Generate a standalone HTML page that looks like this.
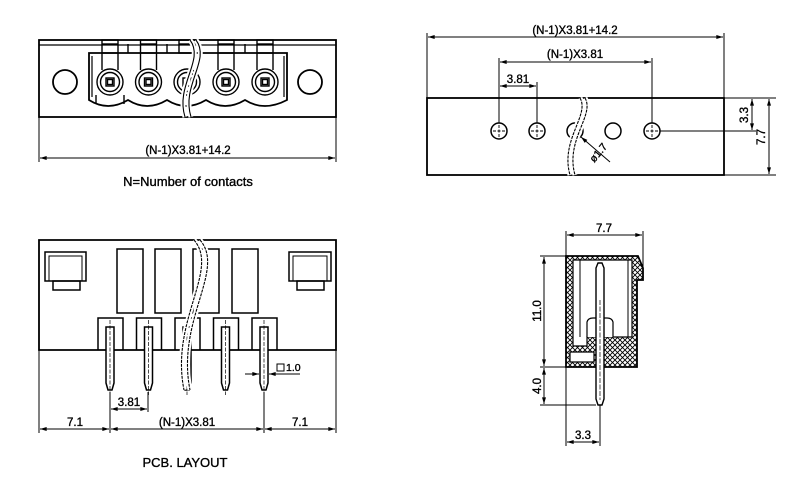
<!DOCTYPE html>
<html><head><style>
html,body{margin:0;padding:0;background:#fff;}
svg{display:block;}
text{font-family:"Liberation Sans",sans-serif;font-size:11.5px;fill:#000;stroke:#000;stroke-width:0.35;}
</style></head><body>
<svg width="800" height="499" viewBox="0 0 800 499" xmlns="http://www.w3.org/2000/svg">
<defs>
<marker id="a" viewBox="0 0 10 6" refX="10" refY="3" markerWidth="8" markerHeight="4" orient="auto-start-reverse"><path d="M0,0L10,3L0,6z" fill="#000"/></marker>
<pattern id="h" width="5" height="5" patternUnits="userSpaceOnUse"><path d="M0,0L5,5M5,0L0,5" stroke="#000" stroke-width="0.9"/></pattern>
</defs>
<g fill="none" stroke="#000" stroke-width="1.8">
<!-- TOP LEFT -->
<rect x="39" y="40" width="297" height="77"/>
<line x1="39" y1="45" x2="336" y2="45" stroke-width="1.2"/>
<circle cx="65" cy="82" r="12"/>
<circle cx="310" cy="82" r="12"/>
<path d="M89,53 L89,100 Q108,112 128,100 Q147,112 167,100 Q186,112 206,100 Q225,112 245,100 Q264,112 287,100 L287,53 Z"/>
<path d="M92,56 L92,97 M284,56 L284,97" stroke-width="1.2"/>
<g stroke-width="1.4">
<g><rect x="102" y="40" width="16" height="13"/><line x1="102" y1="44" x2="118" y2="44"/><line x1="102" y1="53" x2="102" y2="70"/><line x1="118" y1="53" x2="118" y2="70"/><circle cx="110" cy="82" r="13"/><circle cx="110" cy="82" r="9.5"/><rect x="106" y="78" width="8" height="8"/><rect x="107.5" y="79.5" width="5" height="5"/><line x1="96" y1="95" x2="96" y2="104"/><line x1="124" y1="95" x2="124" y2="104"/></g>
<g transform="translate(38.5,0)"><rect x="102" y="40" width="16" height="13"/><line x1="102" y1="44" x2="118" y2="44"/><line x1="102" y1="53" x2="102" y2="70"/><line x1="118" y1="53" x2="118" y2="70"/><circle cx="110" cy="82" r="13"/><circle cx="110" cy="82" r="9.5"/><rect x="106" y="78" width="8" height="8"/><rect x="107.5" y="79.5" width="5" height="5"/></g>
<g transform="translate(77,0)"><rect x="102" y="40" width="16" height="13"/><line x1="102" y1="44" x2="118" y2="44"/><circle cx="110" cy="82" r="13"/><circle cx="110" cy="82" r="9.5"/><rect x="106" y="78" width="8" height="8"/></g>
<g transform="translate(116,0)"><rect x="102" y="40" width="16" height="13"/><line x1="102" y1="44" x2="118" y2="44"/><line x1="102" y1="53" x2="102" y2="70"/><line x1="118" y1="53" x2="118" y2="70"/><circle cx="110" cy="82" r="13"/><circle cx="110" cy="82" r="9.5"/><rect x="106" y="78" width="8" height="8"/><rect x="107.5" y="79.5" width="5" height="5"/></g>
<g transform="translate(155,0)"><rect x="102" y="40" width="16" height="13"/><line x1="102" y1="44" x2="118" y2="44"/><line x1="102" y1="53" x2="102" y2="70"/><line x1="118" y1="53" x2="118" y2="70"/><circle cx="110" cy="82" r="13"/><circle cx="110" cy="82" r="9.5"/><rect x="106" y="78" width="8" height="8"/><rect x="107.5" y="79.5" width="5" height="5"/></g>
<line x1="128" y1="53" x2="128" y2="44"/><line x1="167" y1="53" x2="167" y2="44"/><line x1="245" y1="53" x2="245" y2="44"/>
</g>
<path d="M190,40 C205,60 175,85 185,117 M196,40 C211,60 181,85 191,117" stroke="#fff" stroke-width="5"/>
<path d="M190,40 C205,60 175,85 185,117 M196,40 C211,60 181,85 191,117" stroke-width="1.1"/>
<line x1="39" y1="117" x2="39" y2="162" stroke-width="1"/><line x1="336" y1="117" x2="336" y2="162" stroke-width="1"/>
<line x1="40" y1="158" x2="335" y2="158" stroke-width="1" marker-start="url(#a)" marker-end="url(#a)"/>

<!-- TOP RIGHT -->
<rect x="427" y="98" width="297" height="77"/>
<g stroke-width="1.5">
<circle cx="499" cy="131" r="8"/><circle cx="537" cy="131" r="8"/><circle cx="575" cy="131" r="8"/><circle cx="613" cy="131" r="8"/><circle cx="652" cy="131" r="8"/>
</g>
<g stroke-width="0.9" stroke-dasharray="3,1.5">
<path d="M493,131h12M499,125v12M531,131h12M537,125v12M646,131h12M652,125v12"/>
</g>
<path d="M580,98 C590,115 560,140 570,175 M585,98 C595,115 565,140 575,175" stroke="#fff" stroke-width="5"/>
<path d="M580,98 C590,115 560,140 570,175 M585,98 C595,115 565,140 575,175" stroke-width="1.1" stroke-dasharray="3,1"/>
<g stroke-width="1">
<line x1="427" y1="98" x2="427" y2="33"/><line x1="724" y1="98" x2="724" y2="33"/>
<line x1="428" y1="37" x2="723" y2="37" marker-start="url(#a)" marker-end="url(#a)"/>
<line x1="499" y1="123" x2="499" y2="58"/><line x1="652" y1="123" x2="652" y2="58"/>
<line x1="500" y1="62" x2="651" y2="62" marker-start="url(#a)" marker-end="url(#a)"/>
<line x1="537" y1="123" x2="537" y2="82"/>
<line x1="500" y1="86" x2="536" y2="86" marker-start="url(#a)" marker-end="url(#a)"/>
<line x1="724" y1="98" x2="776" y2="98"/><line x1="724" y1="175" x2="776" y2="175"/><line x1="660" y1="131" x2="756" y2="131"/>
<line x1="752" y1="99" x2="752" y2="130" marker-start="url(#a)" marker-end="url(#a)"/>
<line x1="769" y1="99" x2="769" y2="174" marker-start="url(#a)" marker-end="url(#a)"/>
<line x1="610" y1="162" x2="581" y2="137" marker-end="url(#a)"/>
</g>

<!-- BOTTOM LEFT -->
<path d="M39,350 L39,240 L336,240 L336,350 Z"/>
<g stroke-width="1.5">
<rect x="45" y="252" width="41" height="29"/><rect x="49" y="256" width="33" height="25" stroke-width="1"/><rect x="53" y="281" width="27" height="9"/>
<rect x="289" y="252" width="42" height="29"/><rect x="293" y="256" width="34" height="25" stroke-width="1"/><rect x="297" y="281" width="27" height="9"/>
<rect x="117" y="249" width="26" height="64"/><rect x="155" y="249" width="26" height="64"/><rect x="193" y="249" width="26" height="64"/><rect x="232" y="249" width="26" height="64"/>
<g id="pm"><path d="M98,350 V318 H123 V350"/><path d="M106,327 V383 L108,390 H112 L114,383 V327 Z" fill="#fff"/><line x1="110" y1="320" x2="110" y2="395" stroke-width="0.7" stroke-dasharray="4,1.5"/></g>
<use href="#pm" x="38.5"/><use href="#pm" x="77"/><use href="#pm" x="115.5"/><use href="#pm" x="154"/>
</g>
<path d="M194,240 C220,270 170,320 184,390 M200,240 C226,270 176,320 190,390" stroke="#fff" stroke-width="5"/>
<path d="M194,240 C220,270 170,320 184,390 M200,240 C226,270 176,320 190,390" stroke-width="1.1" stroke-dasharray="3,1"/>
<g stroke-width="1">
<line x1="39" y1="350" x2="39" y2="433"/><line x1="336" y1="350" x2="336" y2="433"/>
<line x1="110" y1="392" x2="110" y2="433"/><line x1="148" y1="392" x2="148" y2="412"/><line x1="264" y1="392" x2="264" y2="433"/>
<line x1="111" y1="409" x2="147" y2="409" marker-start="url(#a)" marker-end="url(#a)"/>
<line x1="40" y1="429" x2="109" y2="429" marker-start="url(#a)" marker-end="url(#a)"/>
<line x1="111" y1="429" x2="263" y2="429" marker-start="url(#a)" marker-end="url(#a)"/>
<line x1="265" y1="429" x2="335" y2="429" marker-start="url(#a)" marker-end="url(#a)"/>
<line x1="245" y1="374" x2="259" y2="374" marker-end="url(#a)"/><line x1="300" y1="374" x2="269" y2="374" marker-end="url(#a)"/>
<rect x="277" y="364" width="7" height="7"/>
</g>

<!-- SIDE VIEW -->
<path d="M566,256 H638 L643,268 V280 H637 V367 H566 Z" fill="url(#h)"/>
<path d="M573,260 H632 V337 H587 V346 H573 Z" fill="#fff" stroke-width="1.2"/>
<path d="M570,352 H594 V362 H570 Z" fill="#fff" stroke-width="1.2"/>
<path d="M587,337 V322 Q588,318 593,318 H607 Q612,318 613,322 V337" fill="#fff" stroke-width="1.2"/>
<line x1="580" y1="260" x2="580" y2="337" stroke-width="1"/><line x1="628" y1="260" x2="628" y2="337" stroke-width="1"/>
<path d="M596,268 L598,263 H602 L604,268 V399 L602,405 H598 L596,399 Z" fill="#fff" stroke-width="1.4"/>
<line x1="600" y1="300" x2="600" y2="400" stroke-width="0.7" stroke-dasharray="5,1.5"/>
<g stroke-width="1">
<line x1="566" y1="256" x2="566" y2="231"/><line x1="643" y1="268" x2="643" y2="231"/>
<line x1="567" y1="235" x2="642" y2="235" marker-start="url(#a)" marker-end="url(#a)"/>
<line x1="566" y1="256" x2="540" y2="256"/><line x1="566" y1="367" x2="540" y2="367"/><line x1="596" y1="405" x2="540" y2="405"/>
<line x1="544" y1="257" x2="544" y2="366" marker-start="url(#a)" marker-end="url(#a)"/>
<line x1="544" y1="368" x2="544" y2="404" marker-start="url(#a)" marker-end="url(#a)"/>
<line x1="566" y1="367" x2="566" y2="446"/><line x1="600" y1="405" x2="600" y2="446"/>
<line x1="567" y1="442" x2="599" y2="442" marker-start="url(#a)" marker-end="url(#a)"/>
</g>
</g>
<text x="188" y="154" text-anchor="middle">(N-1)X3.81+14.2</text>
<text x="188" y="186" text-anchor="middle" style="font-size:13px">N=Number of contacts</text>
<text x="575" y="34" text-anchor="middle">(N-1)X3.81+14.2</text>
<text x="575" y="58" text-anchor="middle">(N-1)X3.81</text>
<text x="518" y="83" text-anchor="middle">3.81</text>
<text transform="translate(748,115) rotate(-90)" text-anchor="middle">3.3</text>
<text transform="translate(765,137) rotate(-90)" text-anchor="middle">7.7</text>
<text transform="translate(601,155) rotate(-50)" text-anchor="middle" style="font-size:10.5px">ø1.7</text>
<text x="129" y="406" text-anchor="middle">3.81</text>
<text x="75" y="426" text-anchor="middle">7.1</text>
<text x="187" y="426" text-anchor="middle">(N-1)X3.81</text>
<text x="300" y="426" text-anchor="middle">7.1</text>
<text x="286" y="371" style="font-size:10.5px">1.0</text>
<text x="185" y="467" text-anchor="middle" style="font-size:13px">PCB. LAYOUT</text>
<text x="604" y="232" text-anchor="middle">7.7</text>
<text transform="translate(541,311) rotate(-90)" text-anchor="middle">11.0</text>
<text transform="translate(541,386) rotate(-90)" text-anchor="middle">4.0</text>
<text x="583" y="439" text-anchor="middle">3.3</text>
</svg>
</body></html>
